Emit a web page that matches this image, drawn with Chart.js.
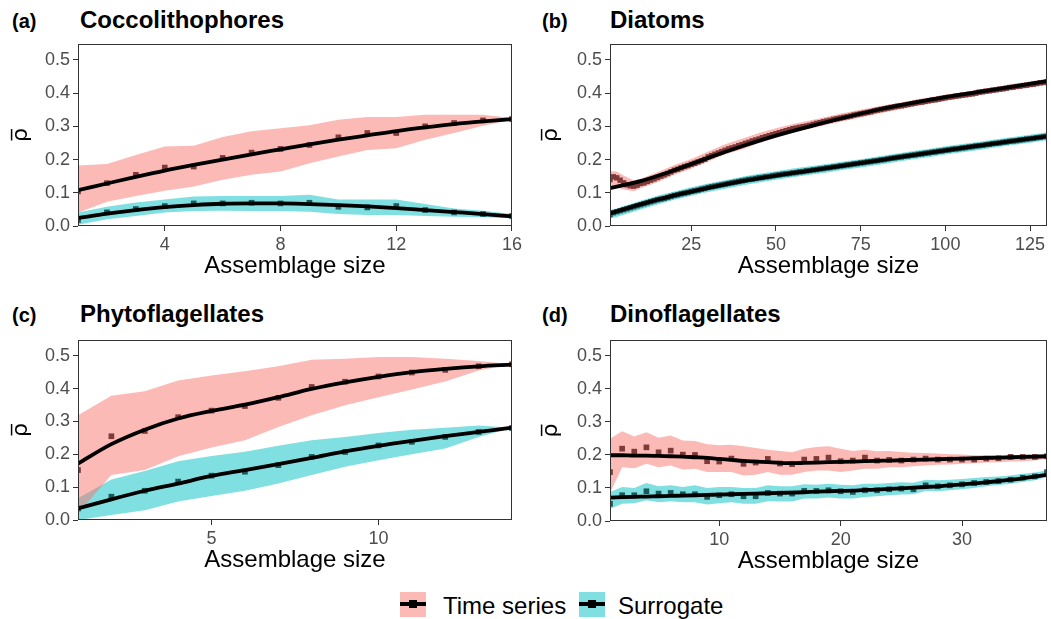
<!DOCTYPE html>
<html>
<head>
<meta charset="utf-8">
<script src="https://cdn.jsdelivr.net/npm/chart.js@4.4.1/dist/chart.umd.min.js"></script>
<style>
  body { margin: 0; background: #fff; width: 1051px; height: 619px; overflow: hidden; position: relative;
         font-family: 'Liberation Sans', Arial, sans-serif; }
  canvas { position: absolute; }
  .tag { position: absolute; font-size: 20px; font-weight: bold; line-height: 20px; }
  .ttl { position: absolute; font-size: 24px; font-weight: bold; line-height: 24px; }
  .key { position: absolute; width: 26px; height: 25px; }
  .key .ln { position: absolute; left: 0; right: 0; top: 10px; height: 4px; background: #000; }
  .key .pt { position: absolute; left: 9px; top: 8px; width: 8px; height: 8px; background: #000; }
  .lgt { position: absolute; font-size: 24px; line-height: 24px; top: 594px; }
</style>
</head>
<body>

<div class="tag" style="left:12px; top:11px">(a)</div>
<div class="ttl" style="left:80px; top:8px">Coccolithophores</div>
<div class="tag" style="left:542px; top:11px">(b)</div>
<div class="ttl" style="left:610px; top:8px">Diatoms</div>
<div class="tag" style="left:12px; top:305px">(c)</div>
<div class="ttl" style="left:80px; top:302px">Phytoflagellates</div>
<div class="tag" style="left:542px; top:305px">(d)</div>
<div class="ttl" style="left:610px; top:302px">Dinoflagellates</div>

<canvas id="chartA" width="525" height="260" style="left:0; top:30px"></canvas>
<canvas id="chartB" width="521" height="260" style="left:530px; top:30px"></canvas>
<canvas id="chartC" width="525" height="258" style="left:0; top:326px"></canvas>
<canvas id="chartD" width="521" height="259" style="left:530px; top:326px"></canvas>

<div class="key" style="left:400px; top:592px; background:rgba(248,118,109,0.5)"><div class="ln"></div><div class="pt"></div></div>
<div class="lgt" style="left:443px">Time series</div>
<div class="key" style="left:579px; top:592px; background:rgba(0,191,196,0.5)"><div class="ln"></div><div class="pt"></div></div>
<div class="lgt" style="left:618px">Surrogate</div>

<script>
// القيم المقروءة من الرسم
const yTicks = [0, 0.1, 0.2, 0.3, 0.4, 0.5];
const yMax = 0.548;
const yTitle = 'ρ\u0305';
const xTitle = 'Assemblage size';

// (a) Coccolithophores
const aX = [1, 2, 3, 4, 5, 6, 7, 8, 9, 10, 11, 12, 13, 14, 15, 16];
const aTicksX = [4, 8, 12, 16];
const aTsPts = [0.104, 0.129, 0.154, 0.176, 0.179, 0.205, 0.221, 0.232, 0.244, 0.267, 0.280, 0.280, 0.300, 0.310, 0.318, 0.322];
const aTsFit = [0.108, 0.128, 0.148, 0.167, 0.184, 0.200, 0.216, 0.231, 0.246, 0.260, 0.273, 0.286, 0.297, 0.307, 0.315, 0.322];
const aTsHi = [0.182, 0.187, 0.214, 0.239, 0.242, 0.268, 0.285, 0.294, 0.303, 0.320, 0.328, 0.328, 0.335, 0.335, 0.335, 0.325];
const aTsLo = [0.040, 0.073, 0.090, 0.106, 0.119, 0.139, 0.154, 0.164, 0.189, 0.209, 0.229, 0.234, 0.260, 0.280, 0.302, 0.320];
const aSrPts = [0.018, 0.041, 0.051, 0.060, 0.068, 0.068, 0.070, 0.068, 0.070, 0.058, 0.056, 0.060, 0.048, 0.041, 0.036, 0.030];
const aSrFit = [0.024, 0.037, 0.048, 0.057, 0.063, 0.067, 0.068, 0.068, 0.066, 0.063, 0.059, 0.054, 0.048, 0.042, 0.036, 0.029];
const aSrHi = [0.041, 0.058, 0.071, 0.080, 0.089, 0.090, 0.090, 0.090, 0.094, 0.080, 0.080, 0.080, 0.066, 0.053, 0.046, 0.036];
const aSrLo = [0.004, 0.020, 0.030, 0.041, 0.045, 0.046, 0.045, 0.045, 0.043, 0.036, 0.033, 0.033, 0.030, 0.028, 0.026, 0.023];

// (b) Diatoms
const bX = Array.from({ length: 130 }, (_, i) => i + 1);
const bTicksX = [25, 50, 75, 100, 125];
const bTsPts = [
  0.140, 0.148, 0.145, 0.138, 0.130, 0.124, 0.121, 0.120, 0.123,
  0.128, 0.130, 0.134, 0.138, 0.142, 0.146, 0.150, 0.154, 0.158, 0.163,
  0.168, 0.171, 0.175, 0.179, 0.182, 0.186, 0.189, 0.193, 0.197, 0.201,
  0.208, 0.212, 0.216, 0.220, 0.224, 0.228, 0.232, 0.235, 0.238, 0.242,
  0.245, 0.249, 0.252, 0.256, 0.259, 0.262, 0.266, 0.269, 0.272, 0.275,
  0.278, 0.281, 0.284, 0.287, 0.290, 0.293, 0.295, 0.297, 0.299, 0.301,
  0.303, 0.306, 0.309, 0.311, 0.314, 0.316, 0.318, 0.321, 0.323, 0.325,
  0.327, 0.329, 0.331, 0.334, 0.336, 0.338, 0.340, 0.342, 0.344, 0.347,
  0.349, 0.351, 0.353, 0.355, 0.357, 0.359, 0.361, 0.362, 0.364, 0.366,
  0.368, 0.370, 0.372, 0.373, 0.375, 0.377, 0.379, 0.380, 0.382, 0.384,
  0.386, 0.388, 0.389, 0.391, 0.392, 0.394, 0.395, 0.397, 0.398, 0.400,
  0.403, 0.404, 0.406, 0.407, 0.409, 0.410, 0.412, 0.413, 0.415, 0.417,
  0.418, 0.420, 0.421, 0.423, 0.424, 0.426, 0.427, 0.429, 0.431, 0.432,
  0.434
];
const bSrPts = [
  0.034, 0.040, 0.043, 0.046, 0.049, 0.052, 0.055, 0.058, 0.061,
  0.064, 0.067, 0.070, 0.073, 0.076, 0.079, 0.081, 0.083, 0.086, 0.089,
  0.092, 0.094, 0.097, 0.099, 0.101, 0.104, 0.106, 0.108, 0.111, 0.113,
  0.116, 0.118, 0.120, 0.122, 0.124, 0.126, 0.128, 0.130, 0.132, 0.134,
  0.136, 0.138, 0.140, 0.141, 0.143, 0.145, 0.146, 0.148, 0.149, 0.151,
  0.153, 0.154, 0.156, 0.157, 0.158, 0.160, 0.161, 0.163, 0.164, 0.166,
  0.167, 0.169, 0.170, 0.172, 0.173, 0.175, 0.176, 0.178, 0.179, 0.181,
  0.182, 0.184, 0.185, 0.187, 0.188, 0.190, 0.191, 0.193, 0.194, 0.196,
  0.197, 0.199, 0.200, 0.202, 0.204, 0.205, 0.207, 0.208, 0.210, 0.211,
  0.213, 0.214, 0.216, 0.217, 0.219, 0.220, 0.222, 0.223, 0.225, 0.226,
  0.228, 0.229, 0.231, 0.232, 0.233, 0.235, 0.236, 0.238, 0.239, 0.241,
  0.242, 0.243, 0.245, 0.246, 0.248, 0.249, 0.250, 0.252, 0.253, 0.255,
  0.256, 0.257, 0.259, 0.260, 0.262, 0.263, 0.264, 0.266, 0.267, 0.269,
  0.270
];
const bFitX = [1, 5, 10, 20, 30, 40, 50, 60, 70, 80, 90, 100, 110, 120, 130];
const bTsFit = [0.114, 0.123, 0.135, 0.168, 0.205, 0.240, 0.272, 0.300, 0.326, 0.350, 0.370, 0.388, 0.404, 0.420, 0.436];
const bSrFit = [0.038, 0.050, 0.065, 0.092, 0.115, 0.135, 0.152, 0.167, 0.182, 0.197, 0.213, 0.228, 0.242, 0.256, 0.270];
const bRibX = [1, 3, 5, 8, 10, 15, 20, 25, 30, 35, 40, 45, 50, 55, 60, 65, 70, 75, 80, 85, 90, 95, 100, 105, 110, 115, 120, 125, 130];
const bTsHi = [0.165, 0.164, 0.152, 0.137, 0.142, 0.162, 0.184, 0.202, 0.224, 0.246, 0.263, 0.280, 0.294, 0.307, 0.318, 0.329, 0.340, 0.350, 0.360, 0.369, 0.378, 0.387, 0.395, 0.403, 0.411, 0.419, 0.427, 0.434, 0.442];
const bTsLo = [0.113, 0.116, 0.110, 0.105, 0.114, 0.132, 0.154, 0.173, 0.194, 0.216, 0.230, 0.250, 0.266, 0.281, 0.293, 0.305, 0.316, 0.327, 0.338, 0.348, 0.358, 0.368, 0.378, 0.387, 0.395, 0.404, 0.412, 0.420, 0.428];
const bSrHi = [0.049, 0.053, 0.060, 0.069, 0.076, 0.091, 0.104, 0.117, 0.128, 0.138, 0.148, 0.157, 0.165, 0.173, 0.180, 0.187, 0.194, 0.201, 0.209, 0.217, 0.225, 0.232, 0.240, 0.247, 0.254, 0.261, 0.268, 0.275, 0.282];
const bSrLo = [0.023, 0.027, 0.034, 0.043, 0.050, 0.065, 0.079, 0.091, 0.102, 0.112, 0.122, 0.131, 0.139, 0.147, 0.154, 0.161, 0.169, 0.176, 0.184, 0.192, 0.200, 0.207, 0.215, 0.222, 0.229, 0.237, 0.244, 0.251, 0.258];

// (c) Phytoflagellates
const cX = [1, 2, 3, 4, 5, 6, 7, 8, 9, 10, 11, 12, 13, 14];
const cTicksX = [5, 10];
const cTsPts = [0.152, 0.255, 0.271, 0.313, 0.333, 0.347, 0.372, 0.405, 0.421, 0.437, 0.449, 0.457, 0.468, 0.474];
const cTsFit = [0.172, 0.231, 0.275, 0.309, 0.332, 0.351, 0.374, 0.399, 0.419, 0.436, 0.450, 0.460, 0.468, 0.473];
const cTsHi = [0.319, 0.378, 0.392, 0.425, 0.440, 0.453, 0.468, 0.488, 0.491, 0.496, 0.496, 0.491, 0.484, 0.474];
const cTsLo = [0.020, 0.137, 0.152, 0.194, 0.221, 0.243, 0.283, 0.319, 0.349, 0.374, 0.397, 0.422, 0.455, 0.474];
const cSrPts = [0.035, 0.071, 0.089, 0.117, 0.135, 0.147, 0.167, 0.192, 0.207, 0.227, 0.238, 0.253, 0.268, 0.280];
const cSrFit = [0.035, 0.063, 0.089, 0.111, 0.134, 0.152, 0.170, 0.189, 0.209, 0.226, 0.241, 0.255, 0.268, 0.281];
const cSrHi = [0.066, 0.123, 0.149, 0.179, 0.195, 0.208, 0.226, 0.243, 0.253, 0.265, 0.275, 0.281, 0.288, 0.281];
const cSrLo = [0.000, 0.015, 0.030, 0.056, 0.073, 0.089, 0.111, 0.137, 0.162, 0.182, 0.200, 0.218, 0.253, 0.281];

// (d) Dinoflagellates
const dX = [1, 2, 3, 4, 5, 6, 7, 8, 9, 10, 11, 12, 13, 14, 15, 16, 17, 18, 19, 20, 21, 22, 23, 24, 25, 26, 27, 28, 29, 30, 31, 32, 33, 34, 35, 36, 37];
const dTicksX = [10, 20, 30];
const dTsPts = [0.148, 0.219, 0.210, 0.223, 0.208, 0.213, 0.201, 0.200, 0.181, 0.180, 0.189, 0.173, 0.177, 0.188, 0.174, 0.172, 0.186, 0.188, 0.192, 0.181, 0.183, 0.192, 0.183, 0.185, 0.183, 0.186, 0.189, 0.186, 0.186, 0.186, 0.186, 0.189, 0.190, 0.194, 0.194, 0.194, 0.196];
const dTsFit = [0.199, 0.199, 0.198, 0.198, 0.197, 0.196, 0.195, 0.193, 0.191, 0.188, 0.185, 0.182, 0.180, 0.178, 0.176, 0.175, 0.176, 0.177, 0.178, 0.179, 0.180, 0.181, 0.182, 0.183, 0.184, 0.185, 0.186, 0.187, 0.188, 0.189, 0.190, 0.191, 0.192, 0.193, 0.194, 0.195, 0.196];
const dTsHi = [0.249, 0.272, 0.256, 0.269, 0.252, 0.259, 0.244, 0.242, 0.232, 0.229, 0.231, 0.226, 0.221, 0.216, 0.212, 0.208, 0.219, 0.224, 0.226, 0.219, 0.212, 0.216, 0.211, 0.212, 0.209, 0.207, 0.206, 0.204, 0.202, 0.201, 0.199, 0.199, 0.197, 0.197, 0.197, 0.197, 0.196];
const dTsLo = [0.085, 0.163, 0.160, 0.173, 0.163, 0.168, 0.156, 0.158, 0.148, 0.148, 0.148, 0.138, 0.140, 0.148, 0.140, 0.140, 0.148, 0.153, 0.153, 0.148, 0.153, 0.158, 0.158, 0.163, 0.163, 0.166, 0.168, 0.170, 0.171, 0.173, 0.175, 0.177, 0.178, 0.180, 0.181, 0.183, 0.188];
const dSrPts = [0.052, 0.078, 0.078, 0.090, 0.083, 0.085, 0.081, 0.081, 0.073, 0.078, 0.081, 0.075, 0.075, 0.085, 0.083, 0.083, 0.091, 0.091, 0.093, 0.090, 0.088, 0.093, 0.093, 0.096, 0.098, 0.096, 0.108, 0.105, 0.108, 0.111, 0.115, 0.118, 0.121, 0.125, 0.131, 0.135, 0.148];
const dSrFit = [0.071, 0.072, 0.073, 0.074, 0.075, 0.076, 0.077, 0.078, 0.079, 0.080, 0.081, 0.082, 0.083, 0.084, 0.085, 0.086, 0.087, 0.089, 0.090, 0.091, 0.092, 0.094, 0.095, 0.097, 0.099, 0.101, 0.103, 0.105, 0.108, 0.111, 0.114, 0.117, 0.121, 0.125, 0.129, 0.134, 0.140];
const dSrHi = [0.088, 0.103, 0.100, 0.115, 0.105, 0.108, 0.103, 0.108, 0.100, 0.103, 0.103, 0.100, 0.100, 0.108, 0.105, 0.105, 0.111, 0.110, 0.113, 0.110, 0.108, 0.113, 0.113, 0.115, 0.117, 0.116, 0.125, 0.123, 0.125, 0.127, 0.130, 0.133, 0.135, 0.138, 0.143, 0.147, 0.153];
const dSrLo = [0.037, 0.052, 0.054, 0.063, 0.057, 0.060, 0.057, 0.057, 0.050, 0.054, 0.057, 0.052, 0.052, 0.060, 0.059, 0.059, 0.068, 0.068, 0.071, 0.068, 0.068, 0.073, 0.075, 0.078, 0.080, 0.081, 0.091, 0.090, 0.093, 0.096, 0.100, 0.105, 0.109, 0.113, 0.118, 0.123, 0.133];

// الألوان
const pinkFill = 'rgba(248, 118, 109, 0.5)';
const tealFill = 'rgba(0, 191, 196, 0.5)';
const pinkPoint = '#7e3939';
const tealPoint = '#1b5858';
const fontFamily = "'Liberation Sans', Arial, sans-serif";

function zip(xs, ys) {
    return ys.map((y, i) => ({ x: xs[i], y: y }));
}

// إطار اللوحة
const panelBorder = {
    id: 'panelBorder',
    afterDatasetsDraw(chart) {
        const { ctx, chartArea: a } = chart;
        ctx.save();
        ctx.strokeStyle = '#333333';
        ctx.lineWidth = 1;
        ctx.strokeRect(a.left + 0.5, a.top + 0.5, a.right - a.left - 1, a.bottom - a.top - 1);
        ctx.restore();
    }
};

function ribbon(xs, lo, hi, color) {
    return [
        { data: zip(xs, lo), borderColor: 'rgba(0,0,0,0)', borderWidth: 0, pointRadius: 0, fill: false, tension: 0, order: 3 },
        { data: zip(xs, hi), borderColor: 'rgba(0,0,0,0)', borderWidth: 0, pointRadius: 0, fill: '-1', backgroundColor: color, tension: 0, order: 3 }
    ];
}

function points(xs, ys, color, r) {
    return { data: zip(xs, ys), showLine: false, pointStyle: 'rect', pointRadius: r, pointBorderWidth: 0,
             pointBackgroundColor: color, borderColor: color, order: 2 };
}

function fit(xs, ys) {
    return { data: zip(xs, ys), borderColor: '#000', borderWidth: 3.8, pointRadius: 0, fill: false,
             cubicInterpolationMode: 'monotone', order: 1 };
}

function makePanel(id, p) {
    const ctx = document.getElementById(id).getContext('2d');
    return new Chart(ctx, {
        type: 'line',
        data: {
            datasets: [
                ...ribbon(p.ribX, p.tsLo, p.tsHi, pinkFill),
                ...ribbon(p.ribX, p.srLo, p.srHi, tealFill),
                points(p.x, p.tsPts, pinkPoint, p.r),
                points(p.x, p.srPts, tealPoint, p.r),
                fit(p.fitX, p.tsFit),
                fit(p.fitX, p.srFit)
            ]
        },
        options: {
            responsive: false,
            devicePixelRatio: 1,
            animation: false,
            layout: { padding: { left: 0, top: 14, right: p.padRight, bottom: 9 } },
            plugins: { legend: { display: false }, tooltip: { enabled: false } },
            scales: {
                x: {
                    type: 'linear',
                    min: p.xMin,
                    max: p.xMax,
                    afterBuildTicks: s => { s.ticks = p.ticksX.map(v => ({ value: v })); },
                    afterFit: s => { s.height = 55; },
                    grid: { display: true, drawOnChartArea: false, drawTicks: true, tickLength: 5, tickColor: '#333333' },
                    border: { display: false },
                    ticks: { autoSkip: false, maxRotation: 0, padding: 3, color: '#4d4d4d',
                             font: { family: fontFamily, size: 18 } },
                    title: { display: true, text: xTitle, color: '#000', padding: 0,
                             font: { family: fontFamily, size: 24 } }
                },
                y: {
                    min: 0,
                    max: yMax,
                    afterBuildTicks: s => { s.ticks = yTicks.map(v => ({ value: v })); },
                    afterFit: s => { s.width = p.yWidth; },
                    grid: { display: true, drawOnChartArea: false, drawTicks: true, tickLength: 5, tickColor: '#333333' },
                    border: { display: false },
                    ticks: { autoSkip: false, padding: 3, color: '#4d4d4d', callback: v => v.toFixed(1),
                             font: { family: fontFamily, size: 18 } },
                    title: { display: true, text: yTitle, color: '#000', padding: { top: 8, bottom: 0 },
                             font: { family: "'DejaVu Sans', sans-serif", size: 22 } }
                }
            }
        },
        plugins: [panelBorder]
    });
}

makePanel('chartA', { x: aX, fitX: aX, ribX: aX, ticksX: aTicksX, xMin: 1, xMax: 16, r: 4, yWidth: 78, padRight: 13,
    tsPts: aTsPts, tsFit: aTsFit, tsHi: aTsHi, tsLo: aTsLo, srPts: aSrPts, srFit: aSrFit, srHi: aSrHi, srLo: aSrLo });
makePanel('chartB', { x: bX, fitX: bFitX, ribX: bRibX, ticksX: bTicksX, xMin: 1, xMax: 130, r: 3.8, yWidth: 80, padRight: 2,
    tsPts: bTsPts, tsFit: bTsFit, tsHi: bTsHi, tsLo: bTsLo, srPts: bSrPts, srFit: bSrFit, srHi: bSrHi, srLo: bSrLo });
makePanel('chartC', { x: cX, fitX: cX, ribX: cX, ticksX: cTicksX, xMin: 1, xMax: 14, r: 4, yWidth: 78, padRight: 13,
    tsPts: cTsPts, tsFit: cTsFit, tsHi: cTsHi, tsLo: cTsLo, srPts: cSrPts, srFit: cSrFit, srHi: cSrHi, srLo: cSrLo });
makePanel('chartD', { x: dX, fitX: dX, ribX: dX, ticksX: dTicksX, xMin: 1, xMax: 37, r: 4, yWidth: 80, padRight: 2,
    tsPts: dTsPts, tsFit: dTsFit, tsHi: dTsHi, tsLo: dTsLo, srPts: dSrPts, srFit: dSrFit, srHi: dSrHi, srLo: dSrLo });
</script>
</body>
</html>
